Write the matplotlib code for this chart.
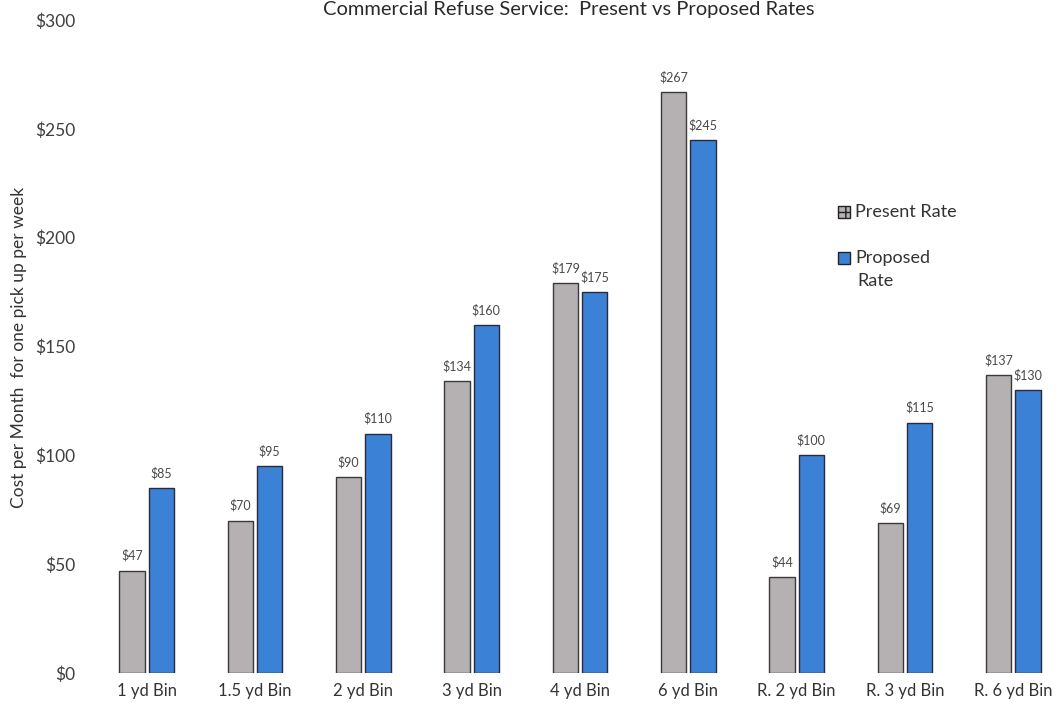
import matplotlib.pyplot as plt
import numpy as np
from matplotlib.patches import Rectangle

plt.rcParams["font.family"] = ["Lato", "DejaVu Sans"]

categories = ["1 yd Bin", "1.5 yd Bin", "2 yd Bin", "3 yd Bin", "4 yd Bin",
              "6 yd Bin", "R. 2 yd Bin", "R. 3 yd Bin", "R. 6 yd Bin"]
present = [47, 70, 90, 134, 179, 267, 44, 69, 137]
proposed = [85, 95, 110, 160, 175, 245, 100, 115, 130]
yticks = [0, 50, 100, 150, 200, 250, 300]

gray = "#b5b0b2"
blue = "#3b82d6"
text_col = "#4a4a4a"

fig = plt.figure(figsize=(10.62, 7.12), dpi=100)
ax = fig.add_axes([0.1014, 0.0548, 0.8986, 0.917])

x = np.arange(len(categories))
w = 0.235
off = 0.135
b1 = ax.bar(x - off, present, w, color=gray, edgecolor="#3a3a3a", linewidth=1.0)
b2 = ax.bar(x + off, proposed, w, color=blue, edgecolor="#2a2a3a", linewidth=1.0)

for rect, v in zip(b1, present):
    ax.text(rect.get_x() + rect.get_width() / 2, v + 4, f"${v}", ha="center",
            va="bottom", fontsize=9, color=text_col)
for rect, v in zip(b2, proposed):
    ax.text(rect.get_x() + rect.get_width() / 2, v + 4, f"${v}", ha="center",
            va="bottom", fontsize=9, color=text_col)

ax.set_ylim(0, 300)
ax.set_xlim(-0.36, 8.45)
ax.set_yticks(yticks)
ax.set_yticklabels([f"${t}" for t in yticks], fontsize=12.5, color="#404040")
ax.set_xticks(x)
ax.set_xticklabels(categories, fontsize=12, color="#333333")
ax.tick_params(axis="y", length=0, pad=23)
ax.tick_params(axis="x", length=0, pad=7)
for s in ax.spines.values():
    s.set_visible(False)

fig.text(19 / 1062, 1 - 347 / 712, "Cost per Month  for one pick up per week",
         rotation=90, ha="center", va="center", fontsize=12.5, color="#333333")
fig.text(569 / 1062, 1 - 9 / 712, "Commercial Refuse Service:  Present vs Proposed Rates",
         ha="center", va="center", fontsize=14.5, color="#2a2a2a")

# legend drawn by hand so the blue square sits beside the first line
sq = 12 / 1062
sqh = 12 / 712
fig.patches.append(Rectangle((838 / 1062, 1 - 218 / 712), sq, sqh, facecolor=gray,
                             edgecolor="#222222", hatch="++",
                             transform=fig.transFigure, figure=fig))
fig.patches.append(Rectangle((838 / 1062, 1 - 264 / 712), sq, sqh, facecolor=blue,
                             edgecolor="#222222",
                             transform=fig.transFigure, figure=fig))
fig.text(855 / 1062, 1 - 212 / 712, "Present Rate", ha="left", va="center",
         fontsize=13, color="#333333")
fig.text(855 / 1062, 1 - 258 / 712, "Proposed", ha="left", va="center",
         fontsize=13, color="#333333")
fig.text(857 / 1062, 1 - 281 / 712, "Rate", ha="left", va="center",
         fontsize=13, color="#333333")

fig.savefig("out.png", dpi=100)
